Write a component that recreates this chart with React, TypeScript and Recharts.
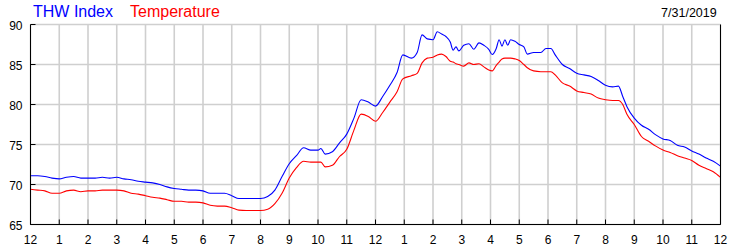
import React from "react";
import { LineChart, Line, XAxis, YAxis, CartesianGrid } from "recharts";

const hours = [
  0, 0.25, 0.5, 0.75, 1, 1.25, 1.5, 1.75, 2, 2.25, 2.5, 2.75, 3, 3.25, 3.5, 3.75,
  4, 4.25, 4.5, 4.75, 5, 5.25, 5.5, 5.75, 6, 6.25, 6.5, 6.75, 7, 7.25, 7.5, 7.75,
  8, 8.25, 8.5, 8.75, 9, 9.25, 9.5, 9.75, 10, 10.1, 10.25, 10.5, 10.75, 11, 11.25, 11.5,
  11.75, 12, 12.25, 12.5, 12.75, 12.95, 13.25, 13.45, 13.62, 13.8, 14, 14.15, 14.3, 14.45,
  14.6, 14.7, 14.8, 14.9, 15.07, 15.25, 15.42, 15.6, 15.77, 15.94, 16.06, 16.2, 16.3, 16.4,
  16.5, 16.6, 16.7, 16.85, 17, 17.16, 17.28, 17.5, 17.75, 17.93, 18.1, 18.25, 18.5, 18.75,
  19, 19.25, 19.5, 19.75, 20, 20.25, 20.45, 20.6, 20.75, 21, 21.25, 21.5, 21.75, 22,
  22.25, 22.5, 22.75, 23, 23.25, 23.5, 23.75, 24,
];

const thwIndex = [
  71.1, 71.1, 71.0, 70.8, 70.7, 70.9, 71.0, 70.8, 70.8, 70.8, 70.9, 70.8, 70.9, 70.7, 70.6, 70.4,
  70.3, 70.2, 70.0, 69.7, 69.5, 69.4, 69.3, 69.3, 69.2, 68.9, 68.9, 68.9, 68.6, 68.25, 68.25, 68.25,
  68.25, 68.5, 69.3, 71.0, 72.6, 73.6, 74.6, 74.3, 74.3, 74.5, 73.8, 74.1, 75.2, 76.3, 78.3, 80.6,
  80.3, 79.8, 81.0, 82.4, 84.0, 86.2, 85.8, 86.5, 88.7, 88.2, 88.1, 89.1, 88.8, 88.5,
  87.8, 86.8, 87.2, 86.7, 87.4, 87.6, 86.9, 87.7, 87.4, 86.9, 86.25, 87.0, 88.1, 87.3,
  88.1, 87.4, 88.1, 87.9, 87.5, 87.2, 86.3, 86.5, 86.5, 87.0, 87.0, 86.2, 85.0, 84.5,
  83.9, 83.7, 83.5, 83.0, 82.4, 82.2, 82.3, 81.0, 79.7, 78.3, 77.4, 76.9, 76.2, 75.7,
  75.5, 74.9, 74.7, 74.2, 73.8, 73.3, 72.9, 72.3,
];

const temperature = [
  69.4, 69.3, 69.2, 68.9, 68.9, 69.2, 69.3, 69.1, 69.2, 69.2, 69.3, 69.3, 69.3, 69.2, 68.9, 68.8,
  68.6, 68.4, 68.3, 68.1, 67.9, 67.9, 67.8, 67.8, 67.7, 67.4, 67.3, 67.3, 67.1, 66.8, 66.75, 66.75,
  66.75, 66.9, 67.6, 68.9, 70.8, 72.1, 72.9, 72.8, 72.8, 72.8, 72.2, 72.4, 73.5, 74.4, 76.8, 78.8,
  78.5, 77.9, 79.0, 80.3, 81.6, 83.2, 83.6, 83.9, 85.2, 85.8, 85.9, 86.2, 86.3, 86.0,
  85.4, 85.3, 85.1, 85.0, 84.8, 85.2, 85.0, 85.1, 84.7, 84.3, 84.2, 84.9, 85.3, 85.7,
  85.8, 85.8, 85.8, 85.7, 85.5, 85.0, 84.6, 84.2, 84.1, 84.1, 84.1, 83.7, 82.7, 82.3,
  81.7, 81.5, 81.3, 80.8, 80.6, 80.5, 80.5, 80.0, 78.75, 77.5, 76.0, 75.4, 74.8, 74.3,
  74.0, 73.6, 73.3, 73.0, 72.4, 72.0, 71.6, 70.9,
];

const hourTicks = [0, 1, 2, 3, 4, 5, 6, 7, 8, 9, 10, 11, 12, 13, 14, 15, 16, 17, 18, 19, 20, 21, 22, 23, 24];
const hourLabels = ["12", "1", "2", "3", "4", "5", "6", "7", "8", "9", "10", "11", "12", "1", "2", "3", "4", "5", "6", "7", "8", "9", "10", "11", "12"];
const tempTicks = [65, 70, 75, 80, 85, 90];

const seriesNames = ["THW Index", "Temperature"];
const dateLabel = "7/31/2019";

const data = hours.map((h, i) => ({ h, thw: thwIndex[i], temp: temperature[i] }));

const FONT = "'Liberation Sans', Arial, sans-serif";

const BottomTick = (props: any) => {
  const { x, y, payload } = props;
  const idx = hourTicks.indexOf(payload.value);
  return (
    <g>
      <line x1={x} y1={y} x2={x} y2={y - 5} stroke="#000" strokeWidth={1} />
      <text x={x} y={y + 19} textAnchor="middle" fontSize={12} fontFamily={FONT} fill="#000">
        {hourLabels[idx]}
      </text>
    </g>
  );
};

const TopTick = (props: any) => {
  const { x, y } = props;
  return <line x1={x} y1={y} x2={x} y2={y + 5} stroke="#000" strokeWidth={1} />;
};

const LeftTick = (props: any) => {
  const { x, y, payload } = props;
  return (
    <g>
      <line x1={x} y1={y} x2={x + 5} y2={y} stroke="#000" strokeWidth={1} />
      <text x={x - 8} y={y + 5} textAnchor="end" fontSize={12} fontFamily={FONT} fill="#000">
        {payload.value}
      </text>
    </g>
  );
};

const RightTick = (props: any) => {
  const { x, y, payload } = props;
  return (
    <g>
      <line x1={x} y1={y} x2={x - 5} y2={y} stroke="#000" strokeWidth={1} />
      <text x={x + 7} y={y + 5} textAnchor="start" fontSize={12} fontFamily={FONT} fill="#000">
        {payload.value}
      </text>
    </g>
  );
};

export default function App() {
  return (
    <div style={{ position: "absolute", left: 0, top: 0, width: 750, height: 250, background: "#fff" }}>
      <LineChart
        width={750}
        height={250}
        data={data}
        margin={{ top: 24.5, right: 0, bottom: 0, left: 0 }}
      >
        <CartesianGrid
          xAxisId="bottom"
          yAxisId="left"
          stroke="#cfcfcf"
          strokeWidth={1.6}
        />
        <XAxis
          xAxisId="bottom"
          dataKey="h"
          type="number"
          domain={[0, 24]}
          ticks={hourTicks}
          interval={0}
          height={25.5}
          tickSize={0}
          tickMargin={0}
          axisLine={{ stroke: "#000", strokeWidth: 1 }}
          tickLine={false}
          tick={<BottomTick />}
        />
        <XAxis
          xAxisId="top"
          orientation="top"
          dataKey="h"
          type="number"
          domain={[0, 24]}
          ticks={hourTicks}
          interval={0}
          height={0}
          tickSize={0}
          tickMargin={0}
          axisLine={{ stroke: "#000", strokeWidth: 1 }}
          tickLine={false}
          tick={<TopTick />}
        />
        <YAxis
          yAxisId="left"
          domain={[65, 90]}
          ticks={tempTicks}
          interval={0}
          width={30.5}
          tickSize={0}
          tickMargin={0}
          axisLine={{ stroke: "#000", strokeWidth: 1 }}
          tickLine={false}
          tick={<LeftTick />}
        />
        <YAxis
          yAxisId="right"
          orientation="right"
          domain={[65, 90]}
          ticks={tempTicks}
          interval={0}
          width={29.5}
          tickSize={0}
          tickMargin={0}
          axisLine={{ stroke: "#000", strokeWidth: 1 }}
          tickLine={false}
          tick={<RightTick />}
        />
        <Line
          xAxisId="bottom"
          yAxisId="left"
          type="monotone"
          dataKey="temp"
          name={seriesNames[1]}
          stroke="#ff0000"
          strokeWidth={1.1}
          dot={false}
          isAnimationActive={false}
        />
        <Line
          xAxisId="bottom"
          yAxisId="left"
          type="monotone"
          dataKey="thw"
          name={seriesNames[0]}
          stroke="#0000ff"
          strokeWidth={1.1}
          dot={false}
          isAnimationActive={false}
        />
      </LineChart>
      <svg
        width={750}
        height={24}
        style={{ position: "absolute", left: 0, top: 0 }}
      >
        <text x={33} y={17.3} fontSize={16} fontFamily={FONT} fill="#0000ff">
          {seriesNames[0]}
        </text>
        <text x={130} y={17.3} fontSize={16} fontFamily={FONT} fill="#ff0000">
          {seriesNames[1]}
        </text>
        <text x={716.7} y={17.3} fontSize={12.5} fontFamily={FONT} fill="#000" textAnchor="end">
          {dateLabel}
        </text>
      </svg>
    </div>
  );
}
